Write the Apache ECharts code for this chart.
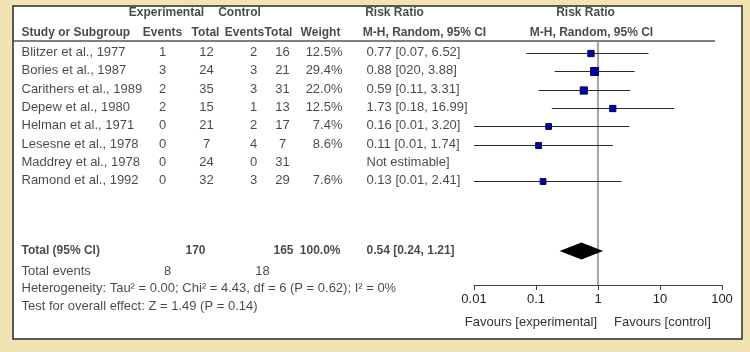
<!DOCTYPE html>
<html>
<head>
<meta charset="utf-8">
<script src="https://cdn.jsdelivr.net/npm/echarts@6/dist/echarts.min.js"></script>
<style>
html, body { margin: 0; padding: 0; background: #f1e3b2; }
#chart { width: 750px; height: 352px; }
</style>
</head>
<body>
<div id="chart"></div>
<script>
// study data
const studies = ['Blitzer et al., 1977', 'Bories et al., 1987', 'Carithers et al., 1989', 'Depew et al., 1980',
  'Helman et al., 1971', 'Lesesne et al., 1978', 'Maddrey et al., 1978', 'Ramond et al., 1992'];
const expEvents = [1, 3, 2, 2, 0, 0, 0, 0];
const expTotal = [12, 24, 35, 15, 21, 7, 24, 32];
const ctrlEvents = [2, 3, 3, 1, 2, 4, 0, 3];
const ctrlTotal = [16, 21, 31, 13, 17, 7, 31, 29];
const weights = [12.5, 29.4, 22.0, 12.5, 7.4, 8.6, null, 7.6];
const riskRatio = [0.77, 0.88, 0.59, 1.73, 0.16, 0.11, null, 0.13];
const ciLow = [0.07, 0.20, 0.11, 0.18, 0.01, 0.01, null, 0.01];
const ciHigh = [6.52, 3.88, 3.31, 16.99, 3.20, 1.74, null, 2.41];
const ciLabels = ['0.77 [0.07, 6.52]', '0.88 [020, 3.88]', '0.59 [0.11, 3.31]', '1.73 [0.18, 16.99]',
  '0.16 [0.01, 3.20]', '0.11 [0.01, 1.74]', 'Not estimable]', '0.13 [0.01, 2.41]'];

// pooled result
const total = { exp: 170, ctrl: 165, weight: '100.0%', rr: 0.54, lo: 0.24, hi: 1.21, label: '0.54 [0.24, 1.21]' };
const totalEvents = { exp: 8, ctrl: 18 };
const heterogeneity = 'Heterogeneity: Tau² = 0.00; Chi² = 4.43, df = 6 (P = 0.62); I² = 0%';
const overallEffect = 'Test for overall effect: Z = 1.49 (P = 0.14)';
const tickValues = [0.01, 0.1, 1, 10, 100];

// layout: row index -> pixel  (row 0 at y=53, 18.3px per row)
const ROW0 = 53, STEP = 18.3;
const rowAt = px => (px - ROW0) / STEP;
const PLOT_TOP = 41, AXIS_Y = 285;
const FONT = '"Liberation Sans", Arial, sans-serif';

const chart = echarts.init(document.getElementById('chart'));

function textCol(items, align, bold) {
  return {
    type: 'scatter', xAxisIndex: 1, yAxisIndex: 1, silent: true, clip: false,
    symbolSize: 1, itemStyle: { color: 'rgba(0,0,0,0)' },
    data: items.map(d => ({ value: [d[0], d[1]], name: String(d[2]) })),
    label: {
      show: true, position: [0, 0], align: align, verticalAlign: 'middle',
      formatter: '{b}', color: '#1a1a1a', fontFamily: FONT,
      fontSize: bold ? 12 : 13, fontWeight: bold ? 'bold' : 'normal'
    },
    labelLayout: { hideOverlap: false }
  };
}

const rows = studies.map((s, i) => i);
const hdr1 = rowAt(13), hdr2 = rowAt(33);
const totRow = rowAt(251);

const series = [
  // header
  textCol([[167, hdr1, 'Experimental'], [240, hdr1, 'Control'], [395, hdr1, 'Risk Ratio'], [586, hdr1, 'Risk Ratio']], 'center', true),
  textCol([[22, hdr2, 'Study or Subgroup']], 'left', true),
  textCol([[163, hdr2, 'Events'], [206, hdr2, 'Total'], [245, hdr2, 'Events'], [279, hdr2, 'Total'],
    [321, hdr2, 'Weight'], [425, hdr2, 'M-H, Random, 95% CI'], [592, hdr2, 'M-H, Random, 95% CI']], 'center', true),
  // study rows
  textCol(rows.map(i => [22, i, studies[i]]), 'left', false),
  textCol(rows.map(i => [163, i, expEvents[i]]), 'center', false),
  textCol(rows.map(i => [207, i, expTotal[i]]), 'center', false),
  textCol(rows.map(i => [254, i, ctrlEvents[i]]), 'center', false),
  textCol(rows.map(i => [283, i, ctrlTotal[i]]), 'center', false),
  textCol(rows.filter(i => weights[i] != null).map(i => [343, i, weights[i].toFixed(1) + '%']), 'right', false),
  textCol(rows.map(i => [367, i, ciLabels[i]]), 'left', false),
  // totals
  textCol([[22, totRow, 'Total (95% CI)'], [367, totRow, total.label]], 'left', true),
  textCol([[206, totRow, total.exp], [294, totRow, total.ctrl]], 'right', true),
  textCol([[341, totRow, total.weight]], 'right', true),
  textCol([[22, rowAt(272), 'Total events'], [22, rowAt(289), heterogeneity], [22, rowAt(307), overallEffect]], 'left', false),
  textCol([[168, rowAt(272), totalEvents.exp], [263, rowAt(272), totalEvents.ctrl]], 'center', false),
  // line of no effect
  {
    type: 'line', xAxisIndex: 0, yAxisIndex: 0, silent: true, data: [], z: 1,
    markLine: {
      silent: true, symbol: ['none', 'none'], label: { show: false }, z: 1,
      lineStyle: { color: '#8a8a8a', width: 1.5, type: 'solid' },
      data: [{ xAxis: 1 }]
    }
  },
  // study estimates
  {
    type: 'custom', xAxisIndex: 0, yAxisIndex: 0, silent: true, clip: false, z: 5,
    data: rows.filter(i => riskRatio[i] != null).map(i => [riskRatio[i], i, ciLow[i], ciHigh[i], weights[i]]),
    renderItem: (params, api) => {
      const p = api.coord([api.value(0), api.value(1)]);
      const a = api.coord([api.value(2), api.value(1)]);
      const b = api.coord([api.value(3), api.value(1)]);
      const y = Math.round(p[1]) + 0.5;
      const s = 5 + api.value(4) * 0.1;
      return {
        type: 'group', children: [
          { type: 'line', shape: { x1: a[0], y1: y, x2: b[0], y2: y }, style: { stroke: '#2a2a2a', lineWidth: 1 } },
          { type: 'rect', shape: { x: p[0] - s / 2, y: y - s / 2, width: s, height: s },
            style: { fill: '#0000a8', stroke: '#000040', lineWidth: 1 } }
        ]
      };
    }
  },
  // pooled diamond
  {
    type: 'custom', xAxisIndex: 0, yAxisIndex: 0, silent: true, clip: false, z: 5,
    data: [[total.rr, totRow, total.lo, total.hi]],
    renderItem: (params, api) => {
      const c = api.coord([api.value(0), api.value(1)]);
      const a = api.coord([api.value(2), api.value(1)]);
      const b = api.coord([api.value(3), api.value(1)]);
      return {
        type: 'polygon',
        shape: { points: [[a[0], c[1]], [c[0], c[1] - 8.5], [b[0], c[1]], [c[0], c[1] + 8.5]] },
        style: { fill: '#000' }
      };
    }
  }
];

chart.setOption({
  animation: false,
  backgroundColor: '#f1e3b2',
  grid: [
    { left: 474, right: 28, top: PLOT_TOP, bottom: 352 - AXIS_Y },
    { left: 0, right: 0, top: 0, bottom: 0 }
  ],
  xAxis: [
    {
      type: 'log', logBase: 10, min: 0.01, max: 100, gridIndex: 0, position: 'bottom',
      axisLine: { onZero: false, lineStyle: { color: '#444', width: 1 } },
      axisTick: { show: true, length: 5, lineStyle: { color: '#444' } },
      axisLabel: {
        color: '#222', fontSize: 13, fontFamily: FONT, margin: 8,
        formatter: v => tickValues.includes(+v) ? String(+v) : ''
      },
      splitLine: { show: false }, minorTick: { show: false }
    },
    { type: 'value', gridIndex: 1, min: 0, max: 750, show: false }
  ],
  yAxis: [
    { type: 'value', gridIndex: 0, inverse: true, min: rowAt(PLOT_TOP), max: rowAt(AXIS_Y), show: false },
    { type: 'value', gridIndex: 1, inverse: true, min: rowAt(0), max: rowAt(352), show: false }
  ],
  graphic: [
    { type: 'rect', shape: { x: 13, y: 6, width: 729, height: 333 },
      style: { fill: '#fff', stroke: '#2a2a2a', lineWidth: 1.5 }, z: -10, silent: true },
    { type: 'line', shape: { x1: 13, y1: 41, x2: 715, y2: 41 },
      style: { stroke: '#555', lineWidth: 1.5 }, silent: true },
    { type: 'text', x: 597, y: 322,
      style: { text: 'Favours [experimental]', fill: '#333', font: '13px ' + FONT, textAlign: 'right', textVerticalAlign: 'middle' } },
    { type: 'text', x: 614, y: 322,
      style: { text: 'Favours [control]', fill: '#333', font: '13px ' + FONT, textAlign: 'left', textVerticalAlign: 'middle' } }
  ],
  series: series
});
</script>
</body>
</html>
